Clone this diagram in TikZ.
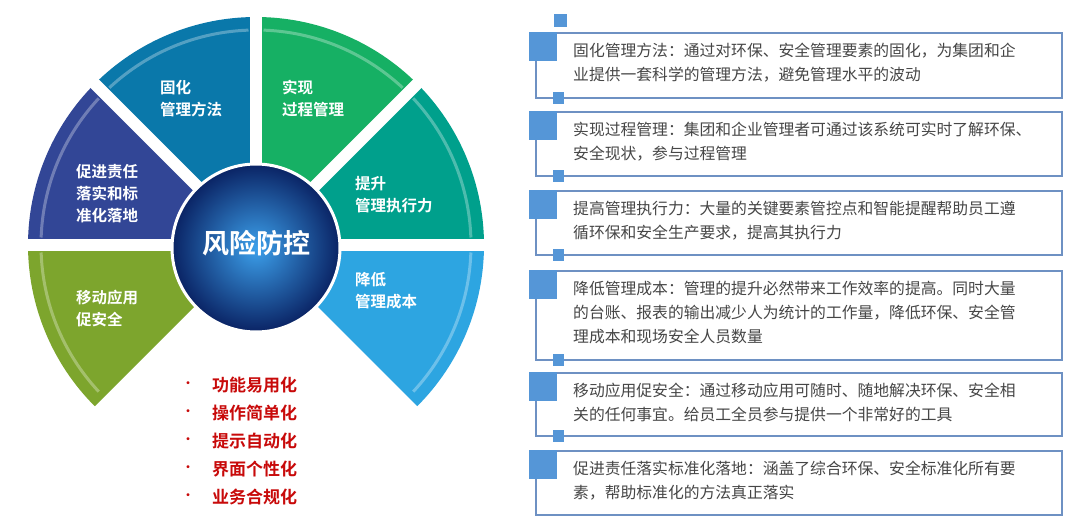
\documentclass[tikz,border=0pt]{standalone}
\usepackage{fontspec}
\setmainfont{Noto Sans CJK SC}
\newfontfamily\cjkb{Noto Sans CJK SC Bold}
\definecolor{cA}{RGB}{10,120,170}
\definecolor{cB}{RGB}{22,176,100}
\definecolor{cC}{RGB}{0,160,140}
\definecolor{cD}{RGB}{45,165,225}
\definecolor{cE}{RGB}{125,165,45}
\definecolor{cF}{RGB}{50,70,150}
\definecolor{boxline}{RGB}{110,145,195}
\definecolor{sq}{RGB}{85,150,215}
\definecolor{txt}{RGB}{70,70,70}
\definecolor{redt}{RGB}{200,10,10}
\begin{document}
\begin{tikzpicture}[x=1pt,y=-1pt,
  lab/.style={text=white,font=\cjkb\fontsize{15.5}{22}\selectfont,align=left,anchor=north west,inner sep=0pt},
  desc/.style={text=txt,font=\fontsize{15.8}{24}\selectfont,align=left,anchor=north west,inner sep=0pt},
  bul/.style={text=redt,font=\cjkb\fontsize{17}{20}\selectfont,anchor=west,inner sep=0pt},
  bigsq/.style={fill=sq,minimum width=28pt,minimum height=29pt,inner sep=0pt,anchor=north west},
  smsq/.style={fill=sq,minimum width=11pt,minimum height=12pt,inner sep=0pt},
  bline/.style={draw=boxline,line width=1.4pt}]
\useasboundingbox (0,0) rectangle (1080,530);
\fill[white] (0,0) rectangle (1080,530);
% fan
\def\R{228}
\foreach \a/\b/\c in {-45/0/cD,0/45/cC,45/90/cB,90/135/cA,135/180/cF,180/225/cE}{
  \fill[\c] (256,245) -- ++(-\a:\R) arc[start angle=-\a,end angle=-\b,radius=\R] -- cycle;
  \draw[white,opacity=0.3,line width=3pt] (256,245) ++(-\a-2:\R-13) arc[start angle=-\a-2,end angle=-\b+2,radius=\R-13];
}
\foreach \a in {0,45,90,135,180}{
  \draw[white,line width=12pt] (256,245) -- ++(-\a:\R+5);
}
\shade[inner color={rgb,255:red,60;green,160;blue,235},outer color={rgb,255:red,10;green,35;blue,100}] (256,248) circle[radius=84];
\draw[white,line width=3pt] (256,248) circle[radius=84];
\node[text=white,font=\cjkb\fontsize{27}{30}\selectfont] (center) at (256,243) {风险防控};
\node[lab] (l1) at (160,80) {固化\\管理方法};
\node[lab] (l2) at (282,80) {实现\\过程管理};
\node[lab] (l3) at (355,176) {提升\\管理执行力};
\node[lab] (l4) at (355,272) {降低\\管理成本};
\node[lab] (l5) at (76,290) {移动应用\\促安全};
\node[lab] (l6) at (76,164) {促进责任\\落实和标\\准化落地};
% bullets
\foreach \t [count=\i] in {功能易用化,操作简单化,提示自动化,界面个性化,业务合规化}{
  \node[text=redt,font=\fontsize{14}{14}\selectfont] (d\i) at (188,357+28*\i) {•};
  \node[bul] (b\i) at (212,357+28*\i) {\t};
}
% boxes
\node[smsq,minimum width=13pt,minimum height=13pt] (top) at (560,20) {};
\foreach \t/\bt/\txt [count=\i] in {
  33/98/{固化管理方法：通过对环保、安全管理要素的固化，为集团和企\\业提供一套科学的管理方法，避免管理水平的波动},
  112/176/{实现过程管理：集团和企业管理者可通过该系统可实时了解环保、\\安全现状，参与过程管理},
  191/255/{提高管理执行力：大量的关键要素管控点和智能提醒帮助员工遵\\循环保和安全生产要求，提高其执行力},
  271/360/{降低管理成本：管理的提升必然带来工作效率的提高。同时大量\\的台账、报表的输出减少人为统计的工作量，降低环保、安全管\\理成本和现场安全人员数量},
  373/436/{移动应用促安全：通过移动应用可随时、随地解决环保、安全相\\关的任何事宜。给员工全员参与提供一个非常好的工具},
  451/515/{促进责任落实标准化落地：涵盖了综合环保、安全标准化所有要\\素，帮助标准化的方法真正落实}}{
  \draw[bline] (536,\t) -- (536,\bt) -- (1062,\bt) -- (1062,\t) -- cycle;
  \node[bigsq] (sq\i) at (529,\t-1) {};
  \node[desc] (t\i) at (573,\t+10) {\txt};
}
\foreach \i/\bt in {1/98,2/176,3/255,4/360,5/436}{
  \node[smsq] (ss\i) at (558,\bt) {};
}
\end{tikzpicture}
\end{document}
